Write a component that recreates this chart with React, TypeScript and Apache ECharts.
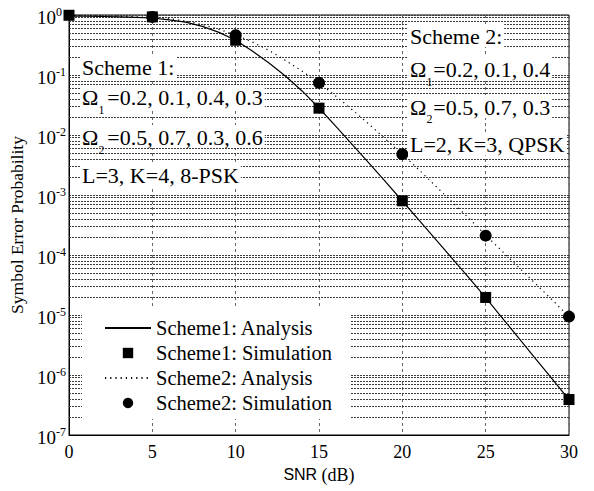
import React, { useEffect, useRef } from 'react';
import * as echarts from 'echarts';

// SNR grid (dB) for the analytical curves
const snrDb = [0, 1, 2, 3, 4, 5, 6, 7, 8, 9, 10, 11, 12, 13, 14, 15, 16, 17, 18, 19, 20, 21, 22, 23, 24, 25, 26, 27, 28, 29, 30];

// Scheme 1 analytical SEP
const scheme1Analysis = [
  0.955, 0.953, 0.944, 0.933, 0.912, 0.891, 0.832, 0.759, 0.646, 0.513,
  0.38, 0.251, 0.158, 0.0955, 0.0537, 0.0282, 0.0141, 0.00692, 0.00339, 0.00166,
  7.94e-4, 3.8e-4, 1.82e-4, 8.71e-5, 4.17e-5, 1.95e-5, 8.91e-6, 4.07e-6, 1.86e-6, 8.51e-7,
  3.89e-7,
];

// Scheme 2 analytical SEP
const scheme2Analysis = [
  0.977, 0.975, 0.966, 0.955, 0.933, 0.912, 0.871, 0.794, 0.692, 0.575,
  0.468, 0.355, 0.257, 0.174, 0.115, 0.0741, 0.0447, 0.0263, 0.0151, 0.00851,
  0.00479, 0.00263, 0.00141, 7.59e-4, 4.07e-4, 2.14e-4, 1.15e-4, 6.17e-5, 3.31e-5, 1.78e-5,
  9.33e-6,
];

// Simulation points
const scheme1SimSnr = [0, 5, 10, 15, 20, 25, 30];
const scheme1Simulation = [0.99, 0.93, 0.38, 0.028, 8.0e-4, 1.96e-5, 3.9e-7];
const scheme2SimSnr = [5, 10, 15, 20, 25, 30];
const scheme2Simulation = [0.93, 0.46, 0.074, 4.8e-3, 2.1e-4, 9.4e-6];

// Axis / grid helpers
const decadeExponents = [-7, -6, -5, -4, -3, -2, -1];
const minorMantissas = [2, 3, 4, 5, 6, 7, 8, 9];

const legendNames = ['Scheme1: Analysis', 'Scheme1: Simulation', 'Scheme2: Analysis', 'Scheme2: Simulation'];

const scheme1Text = ['Scheme 1:', '{m|Ω}{g| }{m|=0.2, 0.1, 0.4, 0.3}', '{m|Ω}{g| }{m|=0.5, 0.7, 0.3, 0.6}', 'L=3, K=4, 8-PSK'];
const scheme2Text = ['Scheme 2:', '{m|Ω}{g2| }{m|=0.2, 0.1, 0.4}', '{m|Ω}{g2| }{m|=0.5, 0.7, 0.3}', 'L=2, K=3, QPSK'];
const subscriptText = ['1', '2'];

const SERIF = '"Liberation Serif", "Times New Roman", serif';
const SANS = '"Liberation Sans", Arial, sans-serif';
const HGRID = '#3a3a3a';
const VGRID = '#666';

function buildOption() {
  const minorValues: number[] = [];
  decadeExponents.forEach((e) => {
    minorMantissas.forEach((m) => minorValues.push(m * Math.pow(10, e)));
  });

  const richText = {
    m: { fontFamily: SERIF, fontSize: 22, lineHeight: 22 },
    g: { fontFamily: SERIF, fontSize: 22, lineHeight: 22, width: 9 },
    g2: { fontFamily: SERIF, fontSize: 22, lineHeight: 22, width: 7 },
  };

  const textEl = (x: number, y: number, text: string) => ({
    type: 'text',
    x,
    y,
    z: 10,
    silent: true,
    style: {
      text,
      fill: '#000',
      backgroundColor: '#fff',
      padding: [1, 2, 0, 2],
      fontFamily: SERIF,
      fontSize: 22,
      lineHeight: 22,
      align: 'left',
      verticalAlign: 'top',
      rich: richText,
    },
  });

  const subEl = (x: number, y: number, text: string) => ({
    type: 'text',
    x,
    y,
    z: 11,
    silent: true,
    style: {
      text,
      fill: '#000',
      fontFamily: SERIF,
      fontSize: 12,
      align: 'left',
      verticalAlign: 'middle',
    },
  });

  const s1Y = [55, 85, 125, 163.5];
  const s2Y = [24, 57, 95, 132.5];

  return {
    animation: false,
    backgroundColor: '#fff',
    grid: { left: 69, right: 25, top: 15, bottom: 56, show: true, borderColor: '#000', borderWidth: 1, backgroundColor: 'transparent' },
    xAxis: {
      type: 'value',
      min: 0,
      max: 30,
      interval: 5,
      name: '{a|SNR }{b|(dB)}',
      nameLocation: 'middle',
      nameGap: 25,
      nameTextStyle: {
        rich: {
          a: { fontFamily: SANS, fontSize: 16, color: '#000' },
          b: { fontFamily: SERIF, fontSize: 18, color: '#000' },
        },
      },
      axisLine: { show: true, lineStyle: { color: '#000', width: 1 } },
      axisTick: { show: false },
      axisLabel: { color: '#000', fontFamily: SERIF, fontSize: 18, margin: 8 },
      splitLine: { show: true, lineStyle: { color: VGRID, width: 1, type: [3, 3] } },
    },
    yAxis: {
      type: 'log',
      logBase: 10,
      min: 1e-7,
      max: 1,
      interval: 1,
      name: 'Symbol Error Probability',
      nameLocation: 'middle',
      nameGap: 35,
      nameTextStyle: { fontFamily: SERIF, fontSize: 17.5, color: '#000' },
      axisLine: { show: true, lineStyle: { color: '#000', width: 1 } },
      axisTick: { show: false },
      axisLabel: {
        color: '#000',
        align: 'left',
        margin: 32,
        formatter: (v: number) => `{b|10}{s|${Math.round(Math.log10(v))}}`,
        rich: {
          b: { fontFamily: SERIF, fontSize: 19, lineHeight: 19, padding: [6, 0, 2, 0], color: '#000' },
          s: { fontFamily: SERIF, fontSize: 12, lineHeight: 12, verticalAlign: 'top', color: '#000' },
        },
      },
      splitLine: { show: true, lineStyle: { color: HGRID, width: 1, type: [2, 1] } },
    },
    legend: {
      orient: 'vertical',
      left: 82,
      top: 307,
      padding: [10, 18, 5, 22],
      backgroundColor: '#fff',
      itemWidth: 46,
      itemHeight: 13,
      itemGap: 3,
      selectedMode: false,
      z: 8,
      textStyle: { fontFamily: SERIF, fontSize: 20.5, lineHeight: 22, color: '#000' },
      data: [
        { name: legendNames[0], itemStyle: { opacity: 0 } },
        { name: legendNames[1] },
        { name: legendNames[2], itemStyle: { opacity: 0 } },
        { name: legendNames[3] },
      ],
    },
    graphic: [
      ...scheme1Text.map((t, i) => textEl(80, s1Y[i], t)),
      ...scheme2Text.map((t, i) => textEl(408, s2Y[i], t)),
      subEl(98.5, 109.5, subscriptText[0]),
      subEl(98.5, 149.5, subscriptText[1]),
      subEl(426.5, 81.5, subscriptText[0]),
      subEl(426.5, 119, subscriptText[1]),
    ],
    series: [
      {
        name: 'minor-grid',
        type: 'line',
        data: [],
        silent: true,
        z: 1,
        markLine: {
          silent: true,
          z: 1,
          symbol: 'none',
          precision: 20,
          label: { show: false },
          lineStyle: { color: HGRID, width: 1, type: [2, 1] },
          emphasis: { disabled: true },
          data: minorValues.map((v) => ({ yAxis: v })),
        },
      },
      {
        name: legendNames[0],
        type: 'line',
        data: snrDb.map((x, i) => [x, scheme1Analysis[i]]),
        symbol: 'none',
        lineStyle: { color: '#000', width: 1.2, type: 'solid' },
        itemStyle: { color: '#000' },
        z: 3,
      },
      {
        name: legendNames[1],
        type: 'line',
        data: scheme1SimSnr.map((x, i) => [x, scheme1Simulation[i]]),
        symbol: 'rect',
        symbolSize: 11,
        lineStyle: { width: 0, opacity: 0 },
        itemStyle: { color: '#000' },
        z: 4,
      },
      {
        name: legendNames[2],
        type: 'line',
        data: snrDb.map((x, i) => [x, scheme2Analysis[i]]),
        symbol: 'none',
        lineStyle: { color: '#000', width: 1.2, type: [1.2, 4] },
        itemStyle: { color: '#000' },
        z: 3,
      },
      {
        name: legendNames[3],
        type: 'line',
        data: scheme2SimSnr.map((x, i) => [x, scheme2Simulation[i]]),
        symbol: 'circle',
        symbolSize: 12,
        lineStyle: { width: 0, opacity: 0 },
        itemStyle: { color: '#000' },
        z: 5,
      },
    ],
  };
}

export default function App() {
  const ref = useRef<HTMLDivElement>(null);
  useEffect(() => {
    if (!ref.current) return;
    const chart = echarts.init(ref.current, null, { renderer: 'svg' });
    chart.setOption(buildOption() as any);
    return () => chart.dispose();
  }, []);
  return (
    <div
      ref={ref}
      style={{ position: 'absolute', left: 0, top: 0, width: 594, height: 491, background: '#fff' }}
    />
  );
}
